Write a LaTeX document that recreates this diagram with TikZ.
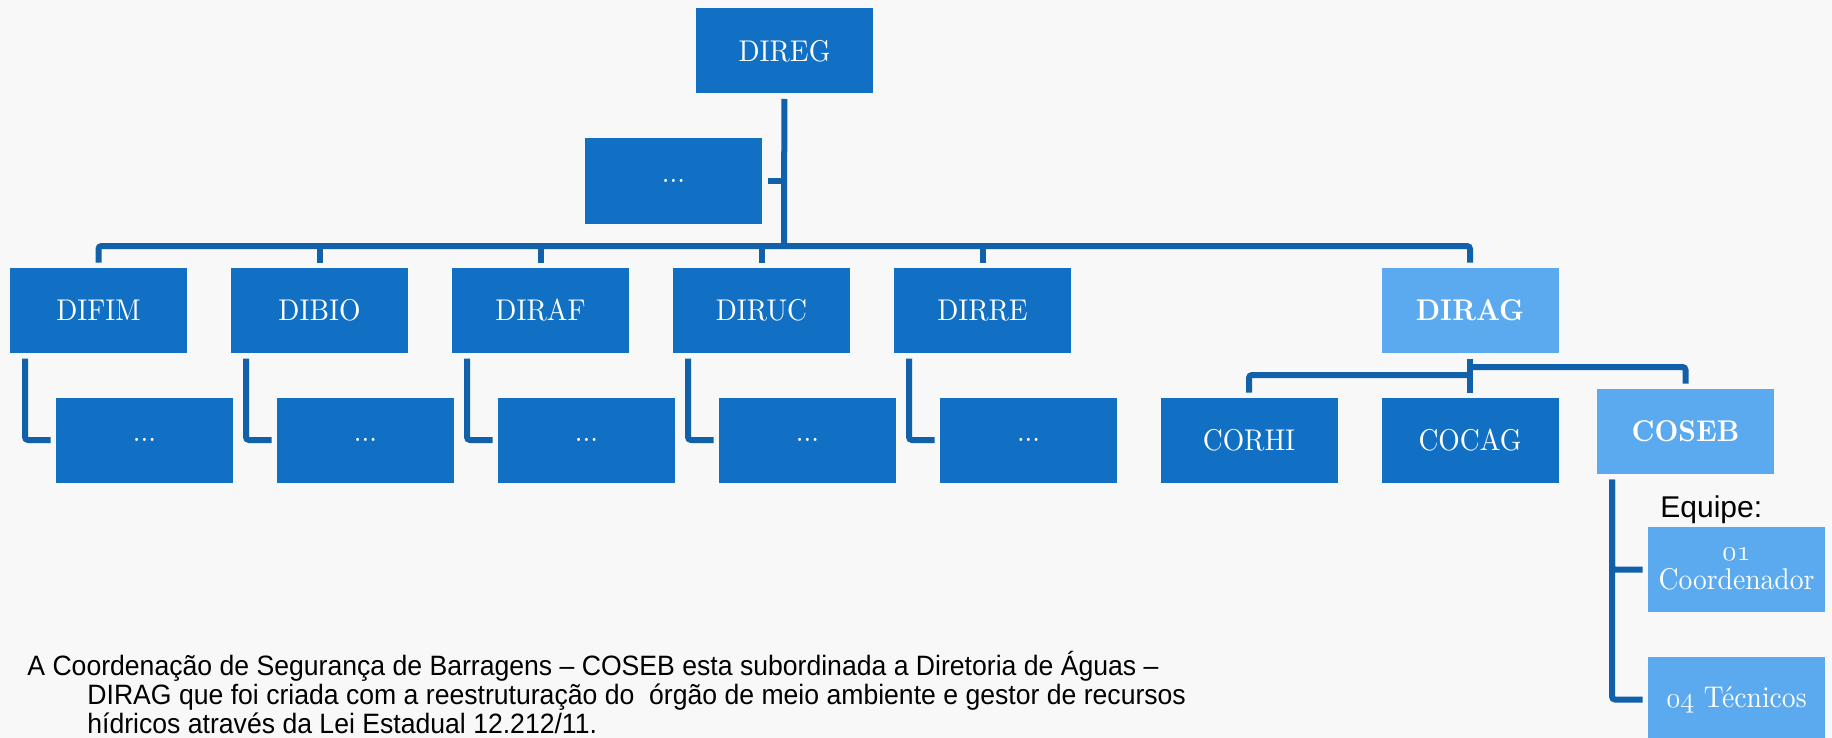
\documentclass[tikz,border=0pt]{standalone}
\usepackage{fontspec}
\newfontfamily\boxfont[FakeStretch=0.92,BoldFont=lmroman10-bold.otf]{lmroman10-regular.otf}
\newfontfamily\arialfont[Ligatures=TeX]{Liberation Sans}
\newfontfamily\notafont[Ligatures=TeX,FakeStretch=0.95]{Liberation Sans}
\newcommand\osnum[1]{{\fontencoding{OML}\fontfamily{cmm}\fontseries{m}\fontshape{it}\selectfont #1}}
\definecolor{azul}{RGB}{17,112,196}
\definecolor{azulclaro}{RGB}{91,170,240}
\definecolor{linha}{RGB}{16,96,170}
\definecolor{fundo}{RGB}{248,248,248}
\begin{document}
\begin{tikzpicture}[x=0.5pt, y=-0.5pt,
  caixa/.style={rectangle, fill=azul, text=white, minimum width=88.5pt, minimum height=42.5pt, inner sep=0pt, outer sep=2.75pt, font=\boxfont\fontsize{15}{14.5}\selectfont},
  caixa clara/.style={caixa, fill=azulclaro},
  liga/.style={draw=linha, line width=3pt, rounded corners=1.5pt},
  texto/.style={anchor=base west, inner sep=0pt, text=black, font=\notafont\fontsize{14}{14.5}\selectfont}]
\fill[fundo] (0,0) rectangle (1832,738);
\useasboundingbox (0,0) rectangle (1832,738);
\node[caixa] (direg) at (784.5,51){DIREG};
\node[caixa] (outros) at (673.5,181){...};
\coordinate (bus) at (784,246);
\draw[liga](direg) -- (bus);
\draw[liga](outros) -- (outros -| bus);
\node[caixa] (difim) at (98.5,310.5){DIFIM};
\node[caixa] (dibio) at (319.5,310.5){DIBIO};
\node[caixa] (diraf) at (540.5,310.5){DIRAF};
\node[caixa] (diruc) at (761.5,310.5){DIRUC};
\node[caixa] (dirre) at (982.5,310.5){DIRRE};
\node[caixa clara] (dirag) at (1470,310.5){\bfseries DIRAG};
\draw[liga](difim) |- (bus) -| (dirag);
\draw[liga](dibio) -- (dibio |- bus);
\draw[liga](diraf) -- (diraf |- bus);
\draw[liga](diruc) -- (diruc |- bus);
\draw[liga](dirre) -- (dirre |- bus);
\node[caixa] (sub1) at (144.5,440){...};
\node[caixa] (sub2) at (365.5,440){...};
\node[caixa] (sub3) at (586.5,440){...};
\node[caixa] (sub4) at (807.5,440){...};
\node[caixa] (sub5) at (1028.5,440){...};
\draw[liga]([xshift=10.25pt]difim.south west) |- (sub1);
\draw[liga]([xshift=10.25pt]dibio.south west) |- (sub2);
\draw[liga]([xshift=10.25pt]diraf.south west) |- (sub3);
\draw[liga]([xshift=10.25pt]diruc.south west) |- (sub4);
\draw[liga]([xshift=10.25pt]dirre.south west) |- (sub5);
\node[caixa] (corhi) at (1249,440.5){CORHI};
\node[caixa] (cocag) at (1470,440.5){COCAG};
\node[caixa clara] (coseb) at (1685.5,431.5){\bfseries COSEB};
\coordinate (ramoesq) at (1470,375);
\coordinate (ramodir) at (1470,367);
\draw[liga](dirag) -- (cocag);
\draw[liga](ramoesq) -| (corhi);
\draw[liga](ramodir) -| (coseb);
\node[texto, font=\arialfont\fontsize{15}{15}\selectfont] (equipe) at (1660,517){Equipe:};
\node[caixa clara, align=center] (coord) at (1736.5,569.5){\osnum{01}\\Coordenador};
\node[caixa clara] (tec) at (1736.5,699.5){\osnum{04} Técnicos};
\draw[liga]([xshift=10.25pt]coseb.south west) |- (coord);
\draw[liga]([xshift=10.25pt]coseb.south west) |- (tec);
\node[texto, align=left] (nota) at (27,733){A Coordenação de Segurança de Barragens – COSEB esta subordinada a Diretoria de Águas –\\
\hspace*{30pt}DIRAG que foi criada com a reestruturação do\ \ órgão de meio ambiente e gestor de recursos\\
\hspace*{30pt}hídricos através da Lei Estadual 12.212/11.};
\end{tikzpicture}
\end{document}
